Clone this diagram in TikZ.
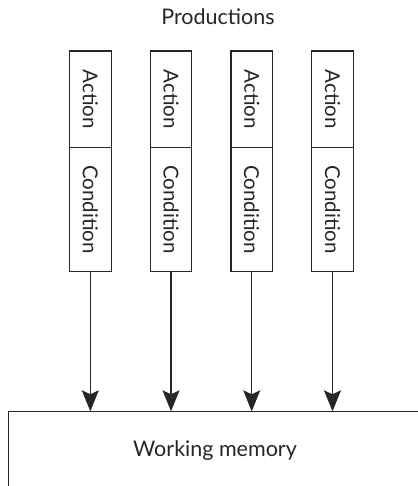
\documentclass[tikz,border=0pt]{standalone}
\usepackage{fontspec}
\setmainfont{Lato}
\usetikzlibrary{arrows.meta}
\definecolor{ink}{HTML}{262626}
\begin{document}
\begin{tikzpicture}[x=1pt,y=1pt,
  line width=1.1pt, draw=ink, text=ink,
  prodbox/.style={draw=ink, rotate=-90, minimum height=41.5pt, inner sep=0pt,
                  font=\fontsize{20.5}{24}\selectfont},
  label/.style={font=\fontsize{21.5}{25}\selectfont},
  feed/.style={-{Stealth[length=21pt,width=17pt,inset=4pt]}, draw=ink, fill=ink}]
\useasboundingbox (0,0) rectangle (417,486);

\node[label] (title) at (218,469) {Productions};

% four productions, each an Action part above a Condition part
\foreach \i/\x in {1/90.3,2/171.0,3/251.7,4/332.5}{
  \node[prodbox, minimum width=96.7pt] (a\i) at (\x,386.65) {Action};
  \node[prodbox, minimum width=124pt] (c\i) at (\x,276.3) {Condition};
}

% working memory, open towards the right and bottom
\coordinate (wmtl) at (8.3,74.7);
\coordinate (wmtr) at (417,74.7);
\coordinate (wmbl) at (8.3,0);
\draw[line cap=rect] (wmbl) -- (wmtl) -- (wmtr);
\node[label] (wm) at (215,35) {Working memory};

% each condition reads from working memory
\foreach \i in {1,...,4}{
  \draw[feed] (c\i.east) -- (c\i.east |- wmtl);
}
\end{tikzpicture}
\end{document}
